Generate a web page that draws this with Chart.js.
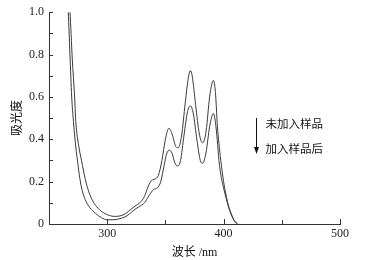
<!DOCTYPE html>
<html><head><meta charset="utf-8">
<script src="https://cdn.jsdelivr.net/npm/chart.js@4/dist/chart.umd.min.js"></script>
<style>html,body{margin:0;padding:0;background:#fff}#wrap{width:375px;height:260px;position:relative}</style>
</head><body><div id="wrap"><canvas id="c" width="375" height="260"></canvas></div>
<script>
// Wavelengths (nm) and absorbance, before adding the sample (upper curve)
const wlBefore = [265,268,270,272,273,275.5,278,281,284,288,292,297,302,306,311,316,320,324,328,332,335,338,341,344,347,350,353,356,359,361,364,367,370,371.5,373,376,379,382,385,388,391.3,393,394.7,396,397.6,400,402,404,406.5,409,412];
const absBefore = [1.15,1.0,0.78,0.6,0.485,0.37,0.298,0.215,0.155,0.105,0.075,0.052,0.04,0.036,0.038,0.05,0.068,0.085,0.1,0.13,0.175,0.205,0.212,0.23,0.3,0.4,0.452,0.42,0.365,0.36,0.42,0.57,0.7,0.724,0.7,0.56,0.43,0.383,0.44,0.6,0.678,0.62,0.46,0.38,0.3,0.2,0.14,0.09,0.05,0.018,0];
// after adding the sample (lower curve)
const wlAfter = [264,266.5,268,269.5,271,272.5,274.5,276.5,278.5,282,285,290,295,300,305,310,315,319,323,328,332,336,340,343,346,349,351,353.5,356,358,360.5,363,366,369,371.5,374,377,380,382,385,388,391.3,393,394.5,396,398,400,402,404,406.5,409,412];
const absAfter = [1.15,1.0,0.8,0.6,0.484,0.39,0.298,0.215,0.158,0.105,0.078,0.05,0.03,0.02,0.02,0.024,0.033,0.047,0.066,0.084,0.1,0.135,0.163,0.17,0.2,0.28,0.33,0.349,0.33,0.29,0.274,0.3,0.42,0.53,0.558,0.52,0.4,0.3,0.287,0.34,0.46,0.522,0.48,0.4,0.3,0.22,0.17,0.125,0.085,0.045,0.016,0];
const seriesNames = ['未加入样品','加入样品后'];
const xTickLabels = [300,400,500];
const yTickLabels = [0,0.2,0.4,0.6,0.8,1.0];
const xTitle = '波长 /nm';
const yTitle = '吸光度';

const toPts = (xs, ys) => xs.map((x,i)=>({x, y: ys[i]}));
const lineColor = '#3a3a3a';
const serif = "'Liberation Serif','Times New Roman',serif";

const tickPlugin = {
  id: 'innerTicks',
  afterDatasetsDraw(chart){
    const {ctx, scales:{x,y}, chartArea:a} = chart;
    ctx.save();
    ctx.strokeStyle = '#333'; ctx.lineWidth = 1;
    ctx.beginPath();
    [300,350,400,450,500].forEach(v=>{
      const px = Math.round(x.getPixelForValue(v))+0.5;
      const len = xTickLabels.includes(v) ? 5 : 4;
      ctx.moveTo(px, a.bottom); ctx.lineTo(px, a.bottom-len);
    });
    for(let i=1;i<=10;i++){
      const py = Math.round(y.getPixelForValue(i/10))+0.5;
      ctx.moveTo(a.left, py); ctx.lineTo(a.left+4, py);
    }
    ctx.stroke();
    // annotation arrow and texts
    const ax = Math.round(x.getPixelForValue(428))+0.5;
    const y1 = y.getPixelForValue(0.5), y2 = y.getPixelForValue(0.33);
    ctx.strokeStyle = '#111'; ctx.fillStyle = '#111';
    ctx.beginPath(); ctx.moveTo(ax, y1); ctx.lineTo(ax, y2-6); ctx.stroke();
    ctx.beginPath(); ctx.moveTo(ax-2.5, y2-7); ctx.lineTo(ax+2.5, y2-7); ctx.lineTo(ax, y2); ctx.closePath(); ctx.fill();
    ctx.font = "11.5px 'Noto Sans CJK SC'";
    ctx.textBaseline = 'middle'; ctx.textAlign = 'left';
    const tx = x.getPixelForValue(436);
    ctx.fillText(seriesNames[0], tx, y.getPixelForValue(0.474));
    ctx.fillText(seriesNames[1], tx, y.getPixelForValue(0.358));
    ctx.restore();
  }
};

new Chart(document.getElementById('c'), {
  type: 'line',
  data: {
    datasets: [
      {label: seriesNames[0], data: toPts(wlBefore, absBefore), borderColor: lineColor, borderWidth: 1, pointRadius: 0, cubicInterpolationMode: 'monotone', fill: false, clip: 0},
      {label: seriesNames[1], data: toPts(wlAfter, absAfter), borderColor: lineColor, borderWidth: 1, pointRadius: 0, cubicInterpolationMode: 'monotone', fill: false, clip: 0}
    ]
  },
  options: {
    responsive: false, animation: false, devicePixelRatio: 1,
    layout: {padding: {top: 9, right: 35, left: 9, bottom: 0}},
    plugins: {legend: {display: false}, tooltip: {enabled: false}},
    scales: {
      x: {
        type: 'linear', min: 250, max: 500,
        afterBuildTicks: s => { s.ticks = xTickLabels.map(v=>({value:v})); },
        ticks: {color: '#222', font: {family: serif, size: 12}, padding: 3, maxRotation: 0, autoSkip: false},
        grid: {drawOnChartArea: false, drawTicks: false},
        border: {color: '#333', width: 1},
        title: {display: true, text: xTitle, color: '#111', font: {family: "'Liberation Serif','Noto Sans CJK SC'", size: 12}, padding: {top: 1, bottom: 0}},
        afterFit: s => { s.height = 36; }
      },
      y: {
        min: 0, max: 1.0,
        afterBuildTicks: s => { s.ticks = yTickLabels.map(v=>({value:v})); },
        ticks: {color: '#222', font: {family: serif, size: 12}, padding: 5, callback: v => v===0 ? '0' : v.toFixed(1)},
        grid: {drawOnChartArea: false, drawTicks: false},
        border: {color: '#333', width: 1},
        title: {display: true, text: yTitle, color: '#111', font: {family: "'Noto Sans CJK SC'", size: 12}, padding: {top: 0, bottom: 4}},
        afterFit: s => { s.width = 40; }
      }
    }
  },
  plugins: [tickPlugin]
});
</script></body></html>
